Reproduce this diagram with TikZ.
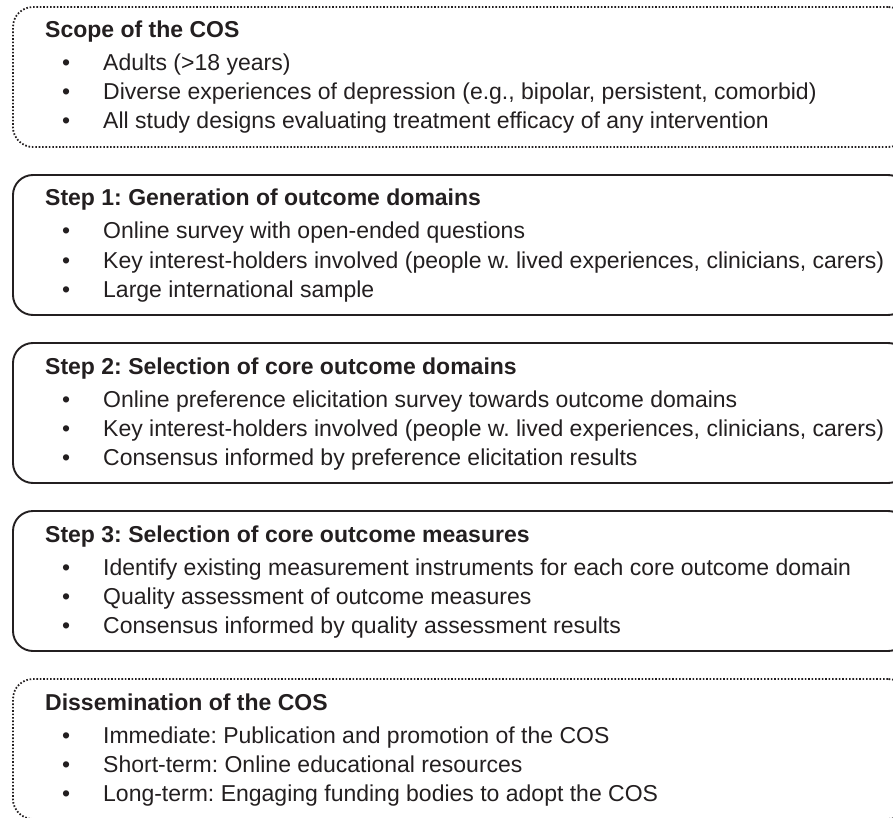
\documentclass[tikz,border=0pt]{standalone}
\usepackage{fontspec}
\setmainfont{Liberation Sans}
\usepackage{tikz}
\usepackage{xcolor}
\usetikzlibrary{positioning}
\frenchspacing

\definecolor{ink}{HTML}{231F20}
\newcommand{\bpt}{\makebox[41pt][l]{•}}
\tikzstyle{stepbox} = [rectangle, rounded corners=20pt, draw=ink, line width=1.9pt, minimum width=895pt, minimum height=140pt, inner sep=0pt]
\tikzstyle{dotbox} = [stepbox, line width=1.8pt, dash pattern=on 1.6pt off 1.8pt]
\tikzstyle{titel} = [anchor=base west, inner sep=0pt, text=ink, font=\fontsize{23}{28}\selectfont\bfseries]
\tikzstyle{punkt} = [anchor=base west, inner sep=0pt, text=ink, font=\fontsize{23}{28}\selectfont]

\begin{document}
\begin{tikzpicture}[x=1pt,y=-1pt,node distance=168pt]
  \clip (0,0) rectangle (893,818);
  \node[dotbox] (Scope) at (460.5,77) {};
  \node[stepbox] (Schritt_eins) [below of=Scope] {};
  \node[stepbox] (Schritt_zwei) [below of=Schritt_eins] {};
  \node[stepbox] (Schritt_drei) [below of=Schritt_zwei] {};
  \node[dotbox] (Verbreitung) [below of=Schritt_drei] {};

  \node[titel] (T_scope) at (45,38) {Scope of the COS};
  \node[punkt] (P_scope_a) at (62,71) {\bpt Adults (>18 years)};
  \node[punkt] (P_scope_b) at (62,100) {\bpt Diverse experiences of depression (e.g., bipolar, persistent, comorbid)};
  \node[punkt] (P_scope_c) at (62,129) {\bpt All study designs evaluating treatment efficacy of any intervention};

  \node[titel] (T_eins) at (45,206) {Step 1: Generation of outcome domains};
  \node[punkt] (P_eins_a) at (62,239) {\bpt Online survey with open-ended questions};
  \node[punkt] (P_eins_b) at (62,268) {\bpt Key interest-holders involved (people w. lived experiences, clinicians, carers)};
  \node[punkt] (P_eins_c) at (62,297) {\bpt Large international sample};

  \node[titel] (T_zwei) at (45,374) {Step 2: Selection of core outcome domains};
  \node[punkt] (P_zwei_a) at (62,407) {\bpt Online preference elicitation survey towards outcome domains};
  \node[punkt] (P_zwei_b) at (62,436) {\bpt Key interest-holders involved (people w. lived experiences, clinicians, carers)};
  \node[punkt] (P_zwei_c) at (62,465) {\bpt Consensus informed by preference elicitation results};

  \node[titel] (T_drei) at (45,542) {Step 3: Selection of core outcome measures};
  \node[punkt] (P_drei_a) at (62,575) {\bpt Identify existing measurement instruments for each core outcome domain};
  \node[punkt] (P_drei_b) at (62,604) {\bpt Quality assessment of outcome measures};
  \node[punkt] (P_drei_c) at (62,633) {\bpt Consensus informed by quality assessment results};

  \node[titel] (T_verb) at (45,710) {Dissemination of the COS};
  \node[punkt] (P_verb_a) at (62,743) {\bpt Immediate: Publication and promotion of the COS};
  \node[punkt] (P_verb_b) at (62,772) {\bpt Short-term: Online educational resources};
  \node[punkt] (P_verb_c) at (62,801) {\bpt Long-term: Engaging funding bodies to adopt the COS};
\end{tikzpicture}
\end{document}
